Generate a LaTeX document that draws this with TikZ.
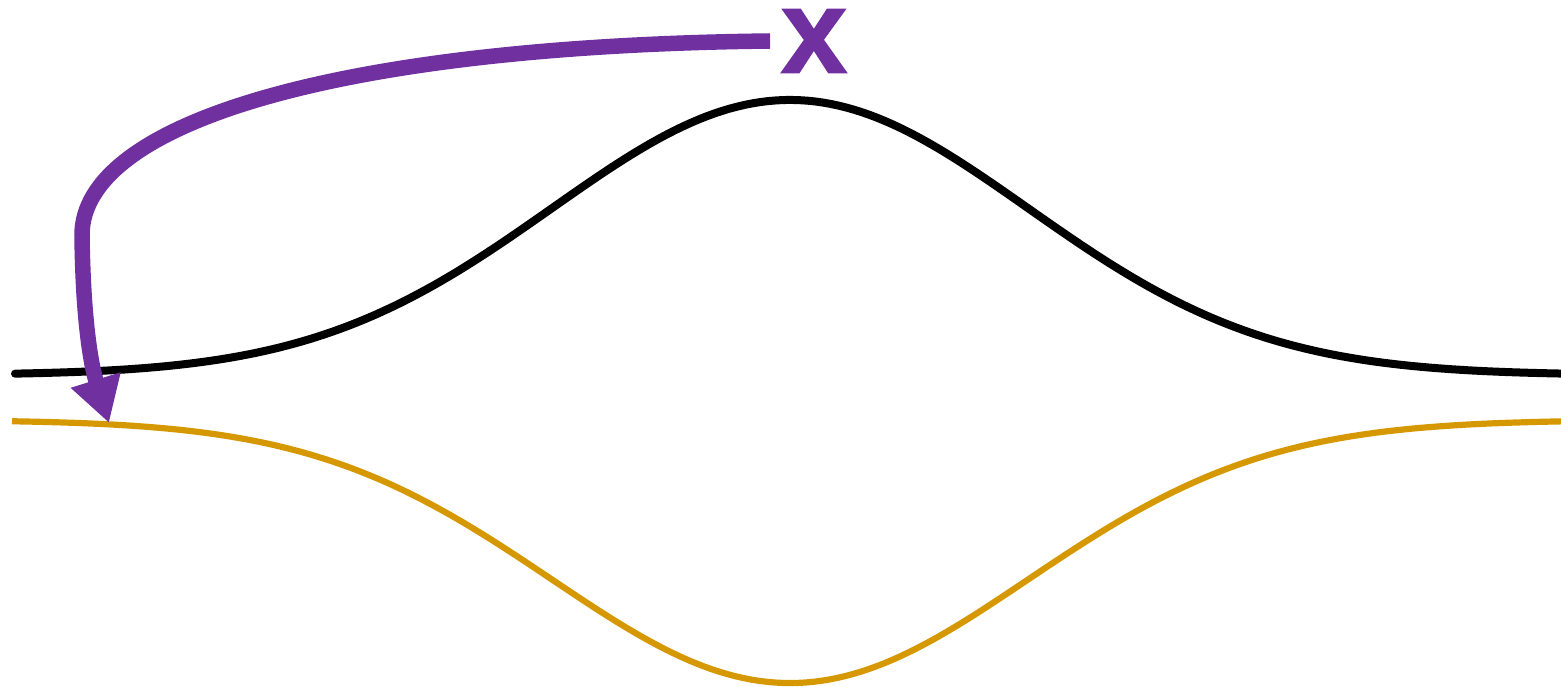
\documentclass[tikz,border=0pt]{standalone}
\usepackage{fontspec}
\setsansfont{Liberation Sans}
\newfontfamily\xlblfont{Liberation Sans Bold}[FakeBold=1.2]
\usetikzlibrary{arrows.meta}
\definecolor{jumppurple}{RGB}{112,48,160}
\definecolor{wellorange}{RGB}{214,152,0}
\begin{document}
\begin{tikzpicture}[x=0.1mm, y=-0.1mm,
  bump/.style={black, line width=0.8mm, line cap=round},
  well/.style={wellorange, line width=0.62mm},
  jump/.style={jumppurple, line width=1.55mm, -{Triangle[length=4.5mm, width=4.9mm]}}]
  \useasboundingbox (0,0) rectangle (1561,687);
  % barrier and well
  \draw[bump] plot[domain=15:1561, samples=200] (\x, {375-275*exp(-0.5*((\x-790)/238)^2)});
  \draw[well] plot[domain=12:1561, samples=200] (\x, {420+263*exp(-0.5*((\x-790)/238)^2)});
  % label and jump
  \node[jumppurple, font=\xlblfont\fontsize{34}{38}\selectfont, inner sep=0pt] (xlbl) at (814,41) {x};
  \coordinate (tgt) at (109,423);
  \draw[jump] ([xshift=-1mm]xlbl.west) .. controls (330,46) and (82,125) .. (82,235)
    .. controls (83,320) and (91,365) .. (tgt);
\end{tikzpicture}
\end{document}
